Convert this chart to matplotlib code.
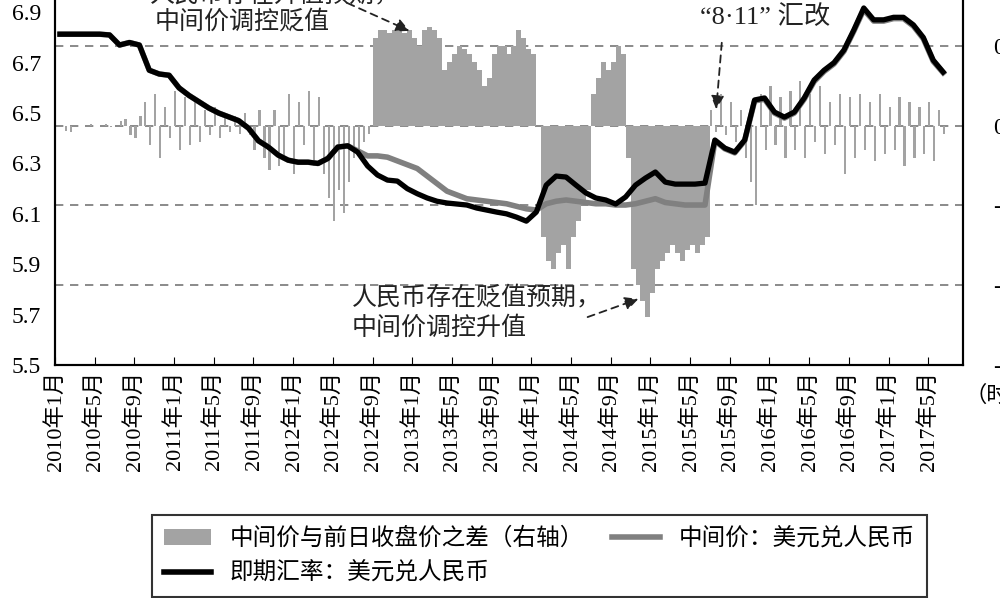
import numpy as np
import matplotlib
matplotlib.use("Agg")
import matplotlib.pyplot as plt
from matplotlib.patches import Patch
from matplotlib.lines import Line2D

plt.rcParams['font.family'] = ['Noto Sans CJK SC', 'DejaVu Sans']

# month index 0 = 2010年1月
tick_labels = ["2010年1月","2010年5月","2010年9月","2011年1月","2011年5月","2011年9月",
               "2012年1月","2012年5月","2012年9月","2013年1月","2013年5月","2013年9月",
               "2014年1月","2014年5月","2014年9月","2015年1月","2015年5月","2015年9月",
               "2016年1月","2016年5月","2016年9月","2017年1月","2017年5月"]

spot = [6.813,6.813,6.813,6.813,6.813,6.81,6.77,6.78,6.77,6.67,
        6.655,6.65,6.60,6.57,6.545,6.52,6.50,6.485,6.47,6.44,
        6.39,6.365,6.333,6.313,6.305,6.305,6.30,6.32,6.365,6.37,
        6.345,6.29,6.254,6.234,6.23,6.20,6.18,6.163,6.15,6.143,
        6.139,6.135,6.123,6.115,6.107,6.10,6.087,6.071,6.107,6.214,
        6.25,6.246,6.214,6.183,6.163,6.155,6.139,6.167,6.214,6.242,
        6.266,6.226,6.218,6.218,6.218,6.222,6.393,6.361,6.345,6.393,
        6.552,6.56,6.504,6.484,6.504,6.56,6.631,6.67,6.70,6.75,
        6.83,6.917,6.87,6.87,6.88,6.88,6.85,6.80,6.71,6.663]

mid = [6.813,6.813,6.813,6.813,6.813,6.81,6.77,6.78,6.77,6.67,
       6.655,6.65,6.60,6.57,6.545,6.52,6.50,6.485,6.47,6.44,
       6.39,6.365,6.333,6.313,6.305,6.305,6.30,6.32,6.365,6.37,
       6.35,6.33,6.33,6.325,6.31,6.295,6.28,6.25,6.22,6.19,
       6.175,6.16,6.155,6.15,6.145,6.14,6.13,6.12,6.115,6.14,
       6.15,6.155,6.15,6.145,6.14,6.14,6.135,6.135,6.14,6.15,
       6.16,6.145,6.14,6.135,6.135,6.135,6.39,6.358,6.342,6.39,
       6.548,6.555,6.50,6.48,6.50,6.555,6.625,6.665,6.695,6.745,
       6.825,6.91,6.865,6.865,6.875,6.875,6.845,6.795,6.705,6.66]

# half-month values of 中间价与前日收盘价之差 (right axis)
diff_a = [0,0,-0.003,-0.004,0,0,0,0.001,0,0,0.001,-0.001,0,0.003,0.004,-0.006,-0.008,0.006]
diff_b = [0.015,-0.012,0.02,-0.02,0.012,-0.008,0.022,-0.015,0.018,-0.012,0.015,-0.01,
          0.01,-0.006,0.012,-0.008,0.005,-0.004,0.006,-0.005,0.008,-0.006]
diff_c = [-0.015,0.01,-0.02,-0.028,0.01,-0.025,-0.02,0.02,-0.03,0.015,-0.012,0.022,
          -0.025,0.018,-0.03,-0.045,-0.06,-0.04,-0.055,-0.035,-0.02,-0.015,-0.01,-0.005]
diff_d = [0.055,0.06,0.06,0.058,0.06,0.062,0.058,0.06,0.055,0.05,
          0.06,0.062,0.06,0.055,0.035,0.04,0.045,0.05,
          0.048,0.045,0.04,0.035,0.025,0.03,0.045,0.05,
          0.05,0.045,0.05,0.06,0.055,0.048,0.045,0.0]
diff_e = [-0.07,-0.085,-0.09,-0.08,-0.075,-0.09,-0.07,-0.06,-0.05,-0.04]
diff_f = [0.02,0.03,0.04,0.035,0.04,0.05,0.045,-0.02]
diff_g = [-0.09,-0.1,-0.11,-0.12,-0.105,-0.09,-0.085,-0.08,
          -0.075,-0.08,-0.085,-0.078,-0.075,-0.08,-0.075,-0.07]
diff_h = [0.01,-0.004,0.02,-0.006,0.015,-0.01,0.01,-0.02,-0.035,-0.05,0.02,-0.015,
          0.025,-0.012,0.018,-0.02,0.022,-0.015,0.028,-0.02,0.02,-0.01,0.025,-0.018,
          0.015,-0.012,0.02,-0.03,0.018,-0.02,0.02,-0.015,0.015,-0.022,0.02,-0.018,
          0.012,-0.015,0.018,-0.025,0.015,-0.02,0.012,-0.018,0.015,-0.022,0.01,-0.005]
segments = [diff_a, diff_b, diff_c, diff_d, diff_e, diff_f, diff_g, diff_h]
noisy = [True, True, True, False, False, False, False, True]

right_ticks = [0.05, 0, -0.05, -0.10, -0.15]
right_labels = ["0.05", "0", "-0.05", "-0.10", "-0.15"]
left_ticks = [5.5, 5.7, 5.9, 6.1, 6.3, 6.5, 6.7, 6.9]

fig = plt.figure(figsize=(10, 5.98), dpi=100)
ax = fig.add_axes([0.055, 0.3896, 0.908, 0.632])
ax2 = ax.twinx()

diff = sum(segments, [])
widths = sum([[0.22 if n else 0.5] * len(s) for s, n in zip(segments, noisy)], [])
bx = np.arange(len(diff)) * 0.5
ax.bar(bx, diff, width=widths, align='edge', color='#a3a3a3', linewidth=0, zorder=2)
for t in right_ticks[:-1]:
    ax.axhline(t, color='#777777', ls=(0, (5, 4)), lw=1.2, zorder=1)
ax.set_ylim(-0.15, 0.0869)
ax.yaxis.tick_right()
ax.set_yticks(right_ticks)
ax.set_yticklabels(right_labels, fontsize=17, family='Liberation Serif')
ax.tick_params(axis='y', pad=22, length=0)

mx = np.arange(len(spot)) + 0.5
ax2.plot(mx, mid, color='#808080', lw=4, zorder=3)
ax2.plot(mx, spot, color='black', lw=3.8, zorder=4)
ax2.set_ylim(5.5, 7.0)
ax2.yaxis.tick_left()
ax2.set_yticks(left_ticks)
ax2.set_yticklabels([f"{v:.1f}" for v in left_ticks], fontsize=17, family='Liberation Serif')
ax2.tick_params(axis='y', pad=10, length=0)

ax.set_xlim(0, 91.5)
ax.set_xticks(np.arange(len(tick_labels)) * 4)
ax.set_xticklabels(tick_labels, rotation=90, fontsize=16,
                   family=['Liberation Serif', 'Noto Sans CJK SC'])
ax.tick_params(axis='x', direction='in', length=6, pad=4)
for a in (ax, ax2):
    for s in a.spines.values():
        s.set_linewidth(1.5)

tf = dict(fontsize=18, color='#222222')
fig.text(0.150, 1.0 + 6 / 598, "人民币存在升值预期，", va='center', **tf)
fig.text(0.155, 1.0 - 22 / 598, "中间价调控贬值", va='center', **tf)
fig.text(0.352, 1.0 - 297 / 598, "人民币存在贬值预期，", va='center', **tf)
fig.text(0.352, 1.0 - 328 / 598, "中间价调控升值", va='center', **tf)
fig.text(0.700, 1.0 - 17 / 598, "“8·11” 汇改", va='center',
         fontsize=19, color='#222222', family=['Liberation Serif', 'Noto Sans CJK SC'])
fig.text(0.965, 1.0 - 395 / 598, "（时间）", va='center', fontsize=16)

def arrow(x0, y0, x1, y1):
    fig.add_artist(matplotlib.patches.FancyArrowPatch(
        (x0 / 1000, 1 - y0 / 598), (x1 / 1000, 1 - y1 / 598), transform=fig.transFigure,
        arrowstyle='-|>', mutation_scale=20, color='#222222', lw=1.3, ls=(0, (4, 3))))

arrow(345, 2, 412, 32)
arrow(722, 40, 716, 112)
arrow(585, 318, 641, 298)

handles = [Patch(facecolor='#a3a3a3', edgecolor='none'),
           Line2D([], [], color='black', lw=4),
           Line2D([], [], color='#808080', lw=4)]
labels = ["中间价与前日收盘价之差（右轴）", "即期汇率：美元兑人民币", "中间价：美元兑人民币"]
leg = fig.legend(handles, labels, ncol=2, loc='upper left', bbox_to_anchor=(0.14, 0.158),
                 fontsize=17, frameon=True, fancybox=False, edgecolor='black',
                 handlelength=2.0, columnspacing=1.2, borderpad=0.5, labelspacing=0.5)
leg.get_frame().set_linewidth(1.5)

fig.savefig("out.png", dpi=100)
